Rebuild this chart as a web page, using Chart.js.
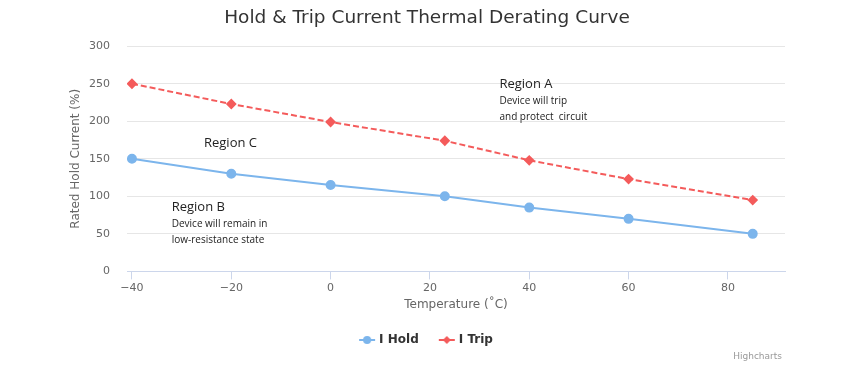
<!DOCTYPE html>
<html>
<head>
<meta charset="utf-8">
<script src="https://cdn.jsdelivr.net/npm/chart.js@4.4.1/dist/chart.umd.min.js"></script>
<style>
  html, body { margin: 0; padding: 0; background: #fff; }
  #wrap { width: 841px; height: 377px; }
</style>
</head>
<body>
<div id="wrap"><canvas id="myChart" width="841" height="377"></canvas></div>
<script>
// temperatures (°C) and rated currents (%)
const temps = [-40, -20, 0, 23, 40, 60, 85];
const holdValues = [150, 130, 115, 100, 85, 70, 50];
const tripValues = [250, 223, 199, 174, 148, 123, 95];
const xTicks = [-40, -20, 0, 20, 40, 60, 80];
const yTicks = [0, 50, 100, 150, 200, 250, 300];

// region notes: [x, y, heading, line1, line2]
const notes = [
  [34, 249, "Region A", "Device will trip", "and protect  circuit"],
  [-25.5, 171, "Region C", "", ""],
  [-32, 85, "Region B", "Device will remain in", "low-resistance state"]
];

const HOLD = "#7cb5ec";
const TRIP = "#f45b5b";

function legendIcon(color, style) {
  const c = document.createElement("canvas");
  c.width = 18;
  c.height = 10;
  const g = c.getContext("2d");
  g.strokeStyle = color;
  g.lineWidth = 2;
  g.beginPath();
  g.moveTo(1, 5);
  g.lineTo(17, 5);
  g.stroke();
  g.fillStyle = color;
  g.beginPath();
  if (style === "circle") {
    g.arc(9, 5, 4, 0, Math.PI * 2);
  } else {
    g.moveTo(9, 1); g.lineTo(13, 5); g.lineTo(9, 9); g.lineTo(5, 5);
    g.closePath();
  }
  g.fill();
  return c;
}

const notesPlugin = {
  id: "notes",
  afterDatasetsDraw(chart) {
    const ctx = chart.ctx;
    const xs = chart.scales.x;
    const ys = chart.scales.y;
    ctx.save();
    ctx.fillStyle = "#222";
    ctx.textAlign = "left";
    ctx.textBaseline = "middle";
    notes.forEach(function (n) {
      const px = xs.getPixelForValue(n[0]);
      const py = ys.getPixelForValue(n[1]);
      ctx.font = "13px 'Open Sans'";
      ctx.fillText(n[2], px, py);
      ctx.font = "10px 'Open Sans'";
      if (n[3]) ctx.fillText(n[3], px, py + 16.5);
      if (n[4]) ctx.fillText(n[4], px, py + 32.5);
    });
    // credits
    ctx.font = "9px 'DejaVu Sans'";
    ctx.fillStyle = "#999";
    ctx.textAlign = "right";
    ctx.fillText("Highcharts", 782, 357);
    ctx.restore();
  }
};

const ctx = document.getElementById("myChart").getContext("2d");
const myChart = new Chart(ctx, {
  type: "line",
  data: {
    datasets: [
      {
        label: "I Hold",
        data: temps.map((t, i) => ({ x: t, y: holdValues[i] })),
        borderColor: HOLD,
        backgroundColor: HOLD,
        borderWidth: 2,
        pointStyle: "circle",
        pointRadius: 4,
        pointHoverRadius: 4,
        tension: 0
      },
      {
        label: "I Trip",
        data: temps.map((t, i) => ({ x: t, y: tripValues[i] })),
        borderColor: TRIP,
        backgroundColor: TRIP,
        borderWidth: 2,
        borderDash: [6, 3],
        pointStyle: "rectRot",
        pointRadius: 4,
        pointHoverRadius: 4,
        tension: 0
      }
    ]
  },
  options: {
    responsive: false,
    animation: false,
    layout: { padding: { left: 69, right: 56, top: 0, bottom: 21 } },
    plugins: {
      title: {
        display: true,
        text: "Hold & Trip Current Thermal Derating Curve",
        color: "#333",
        font: { family: "'DejaVu Sans'", size: 18.5, weight: "normal" },
        padding: { top: 7, bottom: 17 }
      },
      legend: {
        position: "bottom",
        labels: {
          usePointStyle: true,
          color: "#333",
          font: { family: "'DejaVu Sans'", size: 12, weight: "bold" },
          padding: 22,
          generateLabels(chart) {
            return chart.data.datasets.map((ds, i) => ({
              text: ds.label,
              fontColor: "#333",
              pointStyle: legendIcon(ds.borderColor, i === 0 ? "circle" : "diamond"),
              datasetIndex: i,
              hidden: false,
              lineWidth: 0
            }));
          }
        }
      },
      tooltip: { enabled: false }
    },
    scales: {
      x: {
        type: "linear",
        min: -41,
        max: 91.5,
        afterBuildTicks(scale) {
          scale.ticks = xTicks.map(v => ({ value: v }));
        },
        border: { color: "#ccd6eb" },
        grid: { drawOnChartArea: false, drawTicks: true, tickLength: 8, color: "#ccd6eb" },
        ticks: {
          color: "#666",
          font: { family: "'DejaVu Sans'", size: 11 },
          padding: 2,
          maxRotation: 0,
          callback: v => (v < 0 ? "\u2212" + Math.abs(v) : String(v))
        },
        title: {
          display: true,
          text: "Temperature (\u02daC)",
          color: "#666",
          font: { family: "'DejaVu Sans'", size: 12 },
          padding: { top: 1, bottom: 0 }
        }
      },
      y: {
        min: 0,
        max: 300,
        afterBuildTicks(scale) {
          scale.ticks = yTicks.map(v => ({ value: v }));
        },
        afterFit(scale) {
          scale.width = 58;
        },
        border: { display: false },
        grid: { color: "#e6e6e6", drawTicks: false },
        ticks: {
          color: "#666",
          font: { family: "'DejaVu Sans'", size: 11 },
          padding: 17
        },
        title: {
          display: true,
          text: "Rated Hold Current (%)",
          color: "#666",
          font: { family: "'DejaVu Sans'", size: 12 },
          padding: 0
        }
      }
    }
  },
  plugins: [notesPlugin]
});
</script>
</body>
</html>
